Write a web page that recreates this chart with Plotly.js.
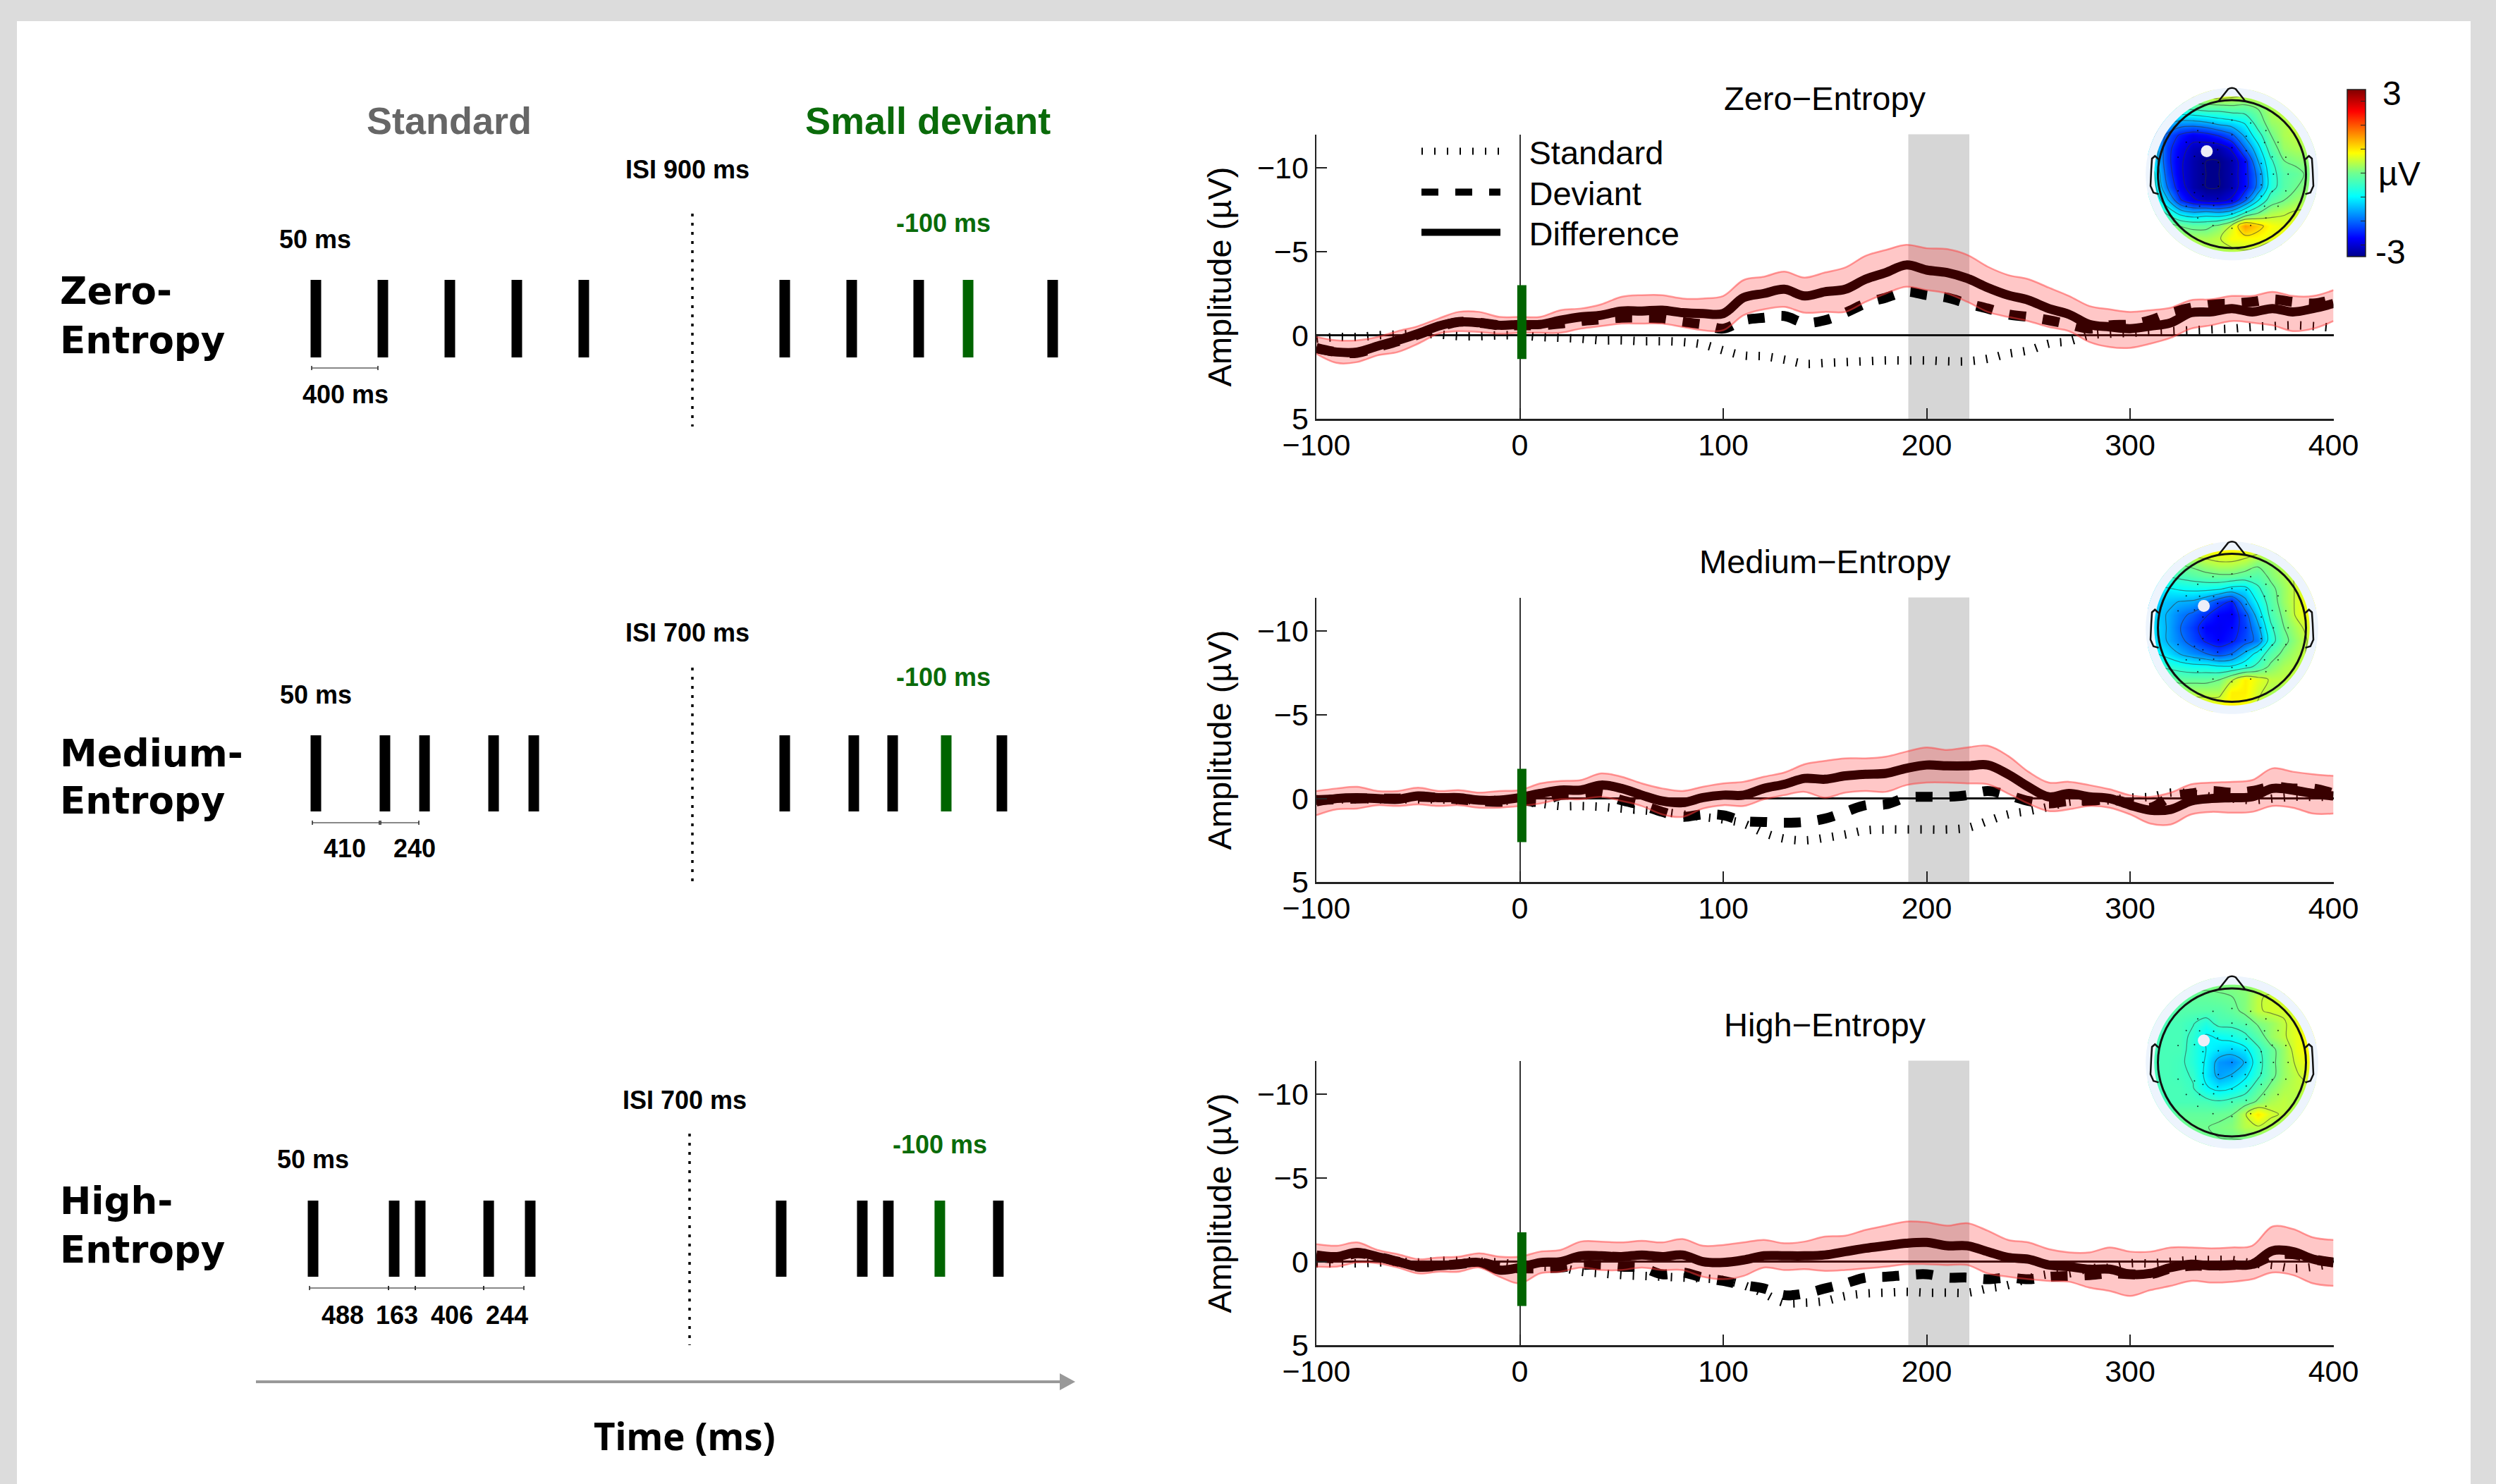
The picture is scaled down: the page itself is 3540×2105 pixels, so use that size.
<!DOCTYPE html>
<html>
<head>
<meta charset="utf-8">
<script src="https://cdn.plot.ly/plotly-3.0.1.min.js"></script>
<style>html,body{margin:0;padding:0;background:#fff}#chart{width:3540px;height:2105px}</style>
</head>
<body>
<div id="chart"></div>
<script>
// ---------- ERP time base and amplitudes (µV, negative up) ----------
const timeMs = [-100,-90,-80,-70,-60,-50,-40,-30,-20,-10,0,10,20,30,40,50,60,70,80,90,100,110,120,130,140,150,160,170,180,190,200,210,220,230,240,250,260,270,280,290,300,310,320,330,340,350,360,370,380,390,400];

const zeroStandard = [.2,.1,.1,0,-.05,-.1,-.05,.05,.05,0,0,.1,.15,.2,.3,.3,.35,.35,.4,.55,.9,1.2,1.25,1.45,1.7,1.65,1.6,1.55,1.5,1.5,1.5,1.55,1.55,1.4,1.1,.9,.5,.35,0,-.1,-.15,-.2,-.25,-.3,-.35,-.4,-.5,-.55,-.6,-.55,-.45];
const zeroDeviant = [.75,1,1.05,.7,.35,-.05,-.5,-.8,-.75,-.6,-.6,-.6,-.7,-.85,-.95,-1.05,-1.05,-1,-.8,-.65,-.4,-.9,-1.05,-1.15,-.75,-.9,-1.35,-1.9,-2.25,-2.6,-2.4,-2.25,-1.9,-1.6,-1.25,-1.1,-.9,-.65,-.4,-.6,-.65,-.9,-1.35,-1.65,-1.85,-1.9,-2,-2.15,-2,-1.9,-2.15];
const zeroDifference = [.8,1,1,.65,.3,-.1,-.55,-.8,-.75,-.6,-.65,-.65,-.9,-1.1,-1.2,-1.45,-1.45,-1.5,-1.35,-1.3,-1.3,-2.25,-2.5,-2.75,-2.35,-2.6,-2.75,-3.35,-3.75,-4.2,-3.9,-3.75,-3.4,-2.85,-2.4,-2.1,-1.6,-1.25,-.65,-.5,-.4,-.55,-.75,-1.35,-1.4,-1.6,-1.4,-1.6,-1.4,-1.6,-1.9];
const zeroUpper = [.1,.3,.3,.1,-.25,-.55,-1,-1.4,-1.4,-1.1,-1.1,-1.1,-1.5,-1.6,-1.85,-2.3,-2.4,-2.4,-2.2,-2.2,-2.35,-3.3,-3.5,-3.8,-3.45,-3.75,-4.05,-4.75,-5.1,-5.4,-5.2,-5.15,-4.8,-4.1,-3.6,-3.35,-2.85,-2.35,-1.75,-1.55,-1.4,-1.5,-1.65,-2.1,-2.15,-2.35,-2.35,-2.6,-2.35,-2.35,-2.7];
const zeroLower = [1.1,1.65,1.6,1.2,1,.5,-.1,-.25,-.2,-.1,-.15,-.15,-.15,-.4,-.55,-.7,-.7,-.7,-.5,-.3,-.3,-1.2,-1.55,-1.7,-1.35,-1.4,-1.4,-2,-2.5,-2.9,-2.7,-2.5,-2,-1.4,-1.1,-.85,-.5,-.25,.4,.7,.75,.5,.15,-.4,-.6,-.85,-.75,-.6,-.25,-.4,-.85];

const medStandard = [.05,.05,.05,.05,.05,.05,.05,.1,.1,.1,.2,.3,.45,.45,.5,.6,.7,.8,.95,1.1,1.25,1.5,2.05,2.4,2.5,2.35,2.15,1.9,1.85,1.85,1.85,1.85,1.75,1.35,.95,.75,.5,.2,.15,.1,-.05,-.1,-.35,-.3,-.1,0,.1,0,-.1,-.1,-.1];
const medDeviant = [.1,.05,0,0,0,-.1,-.05,.05,.15,.2,.1,.2,-.2,-.2,-.3,.1,.4,.8,1.1,.95,1,1.35,1.4,1.45,1.4,1.2,.8,.4,.35,-.05,-.1,-.1,-.2,-.45,-.2,.15,.3,.15,.15,.05,.3,.55,-.1,-.3,-.45,-.35,-.45,-.7,-.6,-.6,-.3];
const medDifference = [.2,0,-.05,0,.05,-.15,-.05,-.05,.1,.1,-.05,-.3,-.5,-.5,-.8,-.6,-.2,.15,.25,-.05,-.2,-.2,-.6,-.85,-1.2,-1.15,-1.35,-1.45,-1.5,-1.8,-2,-1.95,-1.95,-2,-1.45,-.7,-.1,-.3,-.1,0,.4,.7,.65,.15,0,-.05,-.1,-.6,-.5,-.3,-.15];
const medUpper = [-.45,-.6,-.7,-.45,-.45,-.65,-.45,-.5,-.35,-.45,-.5,-.9,-1.05,-1.1,-1.5,-1.3,-.9,-.6,-.45,-.7,-.9,-1,-1.3,-1.55,-2.05,-2.25,-2.4,-2.4,-2.5,-2.8,-3.05,-2.9,-3.05,-3.15,-2.55,-1.6,-.95,-1,-.8,-.55,-.2,-.1,-.35,-.85,-.95,-1,-1.1,-1.8,-1.6,-1.45,-1.35];
const medLower = [1,.65,.6,.4,.45,.35,.45,.4,.55,.55,.45,.3,.05,.05,-.1,.15,.45,.95,1.1,.6,.4,.45,.05,-.2,-.4,-.05,-.35,-.45,-.4,-.8,-.95,-.95,-.9,-.85,-.3,.3,.75,.65,.45,.55,.95,1.5,1.55,.95,.8,.85,.8,.45,.55,.9,.9];

const highStandard = [.1,.1,.1,.05,0,.05,-.05,-.05,0,.05,.2,.3,.35,.6,.7,.8,.85,.9,.95,1,1.1,1.4,1.9,2.45,2.45,2.35,2.05,1.9,1.85,1.8,1.85,1.85,1.85,1.6,1.4,1,.75,.7,.4,.35,.1,.1,0,-.1,-.1,-.1,.1,.2,.4,.3,.1];
const highDeviant = [-.3,-.2,-.5,-.3,0,.3,.25,.15,.05,.3,.4,.4,.35,.2,.2,.3,.35,.75,.65,.95,1.15,1.4,1.6,2,1.9,1.6,1.3,.95,.9,.8,.75,.95,.95,1.05,.95,1.05,.9,.85,.8,.7,.75,.75,.4,.25,.25,.2,.15,-.35,-.45,-.15,.05];
const highDifference = [-.4,-.3,-.55,-.3,0,.3,.25,.15,.05,.5,.35,.05,0,-.35,-.35,-.3,-.4,-.3,-.4,0,.05,-.1,-.35,-.35,-.35,-.4,-.6,-.8,-.95,-1.1,-1.15,-.95,-.95,-.6,-.25,-.15,.2,.3,.45,.45,.75,.7,.35,.15,.25,.2,.15,-.65,-.6,-.15,.05];
const highUpper = [-1.05,-.95,-1.15,-.7,-.45,-.15,-.25,-.3,-.5,-.3,-.3,-.6,-.7,-1.2,-1.2,-1.15,-1.25,-1.15,-1.35,-.95,-1,-1.15,-1.3,-1.1,-1.2,-1.5,-1.55,-1.9,-2.15,-2.4,-2.35,-2.15,-2.3,-1.85,-1.3,-1.15,-.75,-.55,-.55,-.85,-.6,-.6,-.85,-.85,-.8,-.85,-.95,-2.1,-1.95,-1.45,-1.3];
const highLower = [.3,.3,.05,.1,.35,.7,.6,.6,.35,.9,1.3,.7,.6,.35,.5,.5,.35,.5,.5,.9,1.05,.85,.35,.5,.45,.55,.5,.4,.3,.15,.15,.2,.2,.7,.9,1.05,1.15,1.2,1.55,1.75,2.05,1.7,1.45,1.15,1.25,1.2,1.05,.65,.8,1.3,1.45];

const analysisWindow = [191, 221];
const zeroOnsetBar = [-3, 1.42];
const medOnsetBar = [-1.77, 2.6];
const highOnsetBar = [-1.75, 2.65];
const xTicks = [-100,0,100,200,300,400];
const yTicks = [-10,-5,0,5];
const panelTitles = ['Zero−Entropy','Medium−Entropy','High−Entropy'];
const seriesNames = ['Standard','Deviant','Difference'];

// ---------- topographies (µV) on a 13×13 grid, top row first ----------
const topoX = [-1.05,-.875,-.7,-.525,-.35,-.175,0,.175,.35,.525,.7,.875,1.05];
const topoY = [1.05,.875,.7,.525,.35,.175,0,-.175,-.35,-.525,-.7,-.875,-1.05];
const zeroTopo = [
[.5,.5,.5,.5,.5,.6,.5,.4,.5,.5,.6,.6,.6],
[-.6,-.6,-.5,-.4,-.3,-.3,-.2,-.2,0,.3,.5,.6,.6],
[-1,-1.2,-1.4,-1.4,-1.3,-1.1,-1,-.8,-.2,.2,.3,.5,.6],
[-1.3,-1.8,-2.2,-2.4,-2.3,-2.1,-1.8,-1.2,-.6,0,.3,.4,.4],
[-1,-2,-2.4,-2.7,-2.8,-2.8,-2.5,-1.7,-1,-.2,.2,.3,.3],
[-1,-2,-2.5,-2.8,-3,-3,-2.8,-2.3,-1.3,-.5,0,.1,.2],
[-.8,-1.9,-2.5,-2.8,-3,-3,-2.8,-2.3,-1.6,-.6,-.2,-.1,.1],
[-.7,-1.7,-2.4,-2.8,-3,-3,-2.8,-2.3,-1.6,-.6,-.2,0,.2],
[-.5,-1.2,-2.1,-2.5,-2.7,-2.7,-2.5,-1.8,-.9,-.2,0,.2,.3],
[0,-.5,-1,-1.2,-1.1,-1.2,-1,-.4,0,.3,.4,.5,.5],
[.2,.2,0,-.1,-.1,.1,.5,1.3,1,.7,.6,.6,.6],
[.3,.3,.3,.3,.3,.4,.7,.7,.7,.6,.6,.5,.5],
[.3,.3,.3,.3,.3,.3,.3,.4,.3,0,.3,.4,.4]];
const medTopo = [
[1,.9,.8,.75,.75,.75,.75,.7,.6,.5,.5,.5,.5],
[0,0,.05,.15,.3,.4,.4,.3,.1,.2,.4,.6,.7],
[-.5,-.4,-.3,-.2,-.1,-.05,-.05,-.15,-.2,.1,.3,.5,.6],
[-1,-.9,-.8,-.75,-.75,-.8,-1,-1,-.5,-.1,.2,.5,.6],
[-1.1,-1.2,-1.3,-1.35,-1.6,-2,-2.2,-1.4,-.8,-.2,.2,.5,.7],
[-1.1,-1.3,-1.6,-1.8,-2.1,-2.35,-2.4,-1.9,-1.1,-.3,.1,.5,.7],
[-1,-1.3,-1.7,-2,-2.35,-2.4,-2.3,-2,-1.4,-.5,0,.3,.6],
[-1,-1.3,-1.6,-1.9,-2.2,-2.35,-2.2,-1.9,-1.6,-.6,-.1,.2,.5],
[-.8,-1,-1.3,-1.5,-1.7,-1.9,-1.7,-1.2,-.7,-.2,.1,.3,.5],
[-.4,-.5,-.6,-.7,-.7,-.8,-.8,-.6,-.3,.1,.3,.4,.4],
[0,0,-.1,-.1,-.1,0,.4,.8,.6,.4,.4,.4,.4],
[.4,.3,.3,.3,.3,.3,.8,.8,.5,.3,.2,.2,.2],
[.7,.7,.7,.7,.7,.7,.8,.7,.4,.2,.2,.2,.2]];
const highTopo = [
[.1,.1,.1,.1,.1,.1,.1,.15,.2,.3,.3,.3,.3],
[-.1,-.1,-.1,-.1,-.1,-.05,0,.1,.4,.5,.5,.5,.5],
[-.2,-.2,-.2,-.2,-.2,-.2,-.1,.1,.4,.5,.5,.5,.5],
[-.3,-.3,-.3,-.4,-.6,-.3,-.3,-.2,.05,.2,.4,.6,.6],
[-.3,-.3,-.3,-.5,-.9,-.8,-.7,-.5,-.2,.2,.4,.6,.7],
[-.3,-.3,-.3,-.55,-.85,-1,-1.1,-.95,-.5,-.1,.2,.6,.75],
[-.3,-.3,-.35,-.55,-.9,-1.45,-1.55,-1.25,-.6,-.1,.2,.5,.7],
[-.3,-.3,-.35,-.45,-.95,-1.4,-1.25,-.95,-.5,-.1,.2,.4,.6],
[-.3,-.3,-.3,-.4,-.8,-.95,-.85,-.6,-.2,.1,.3,.4,.4],
[-.3,-.3,-.3,-.3,-.3,-.4,-.3,-.2,.05,.3,.4,.3,.3],
[-.2,-.2,-.1,-.1,-.1,-.05,0,.4,.85,.5,.4,.3,.3],
[0,0,0,0,0,.05,.1,.35,.4,.3,.2,.2,.2],
[0,0,0,0,0,0,0,0,.05,.05,.05,.05,.05]];
const electrodeX = [0,-.256,.253,-.462,.459,0,.193,-.617,-.437,-.247,.44,.623,0,-.193,.193,-.506,-.728,.544,.728,-.392,-.184,0,.18,.396,-.392,0,.187,.389,.56,.759,-.392,-.184,0,.18,.396,-.728,-.506,.544,.728,-.392,-.193,.193,.396,0,-.617,-.437,-.247,.44,.623,0,.193,-.462,.459,-.256,.253,0];
const electrodeY = [.728,.69,.69,.589,.589,.532,.513,.43,.427,.421,.427,.43,.358,.329,.316,.241,.228,.234,.228,.146,.158,.18,.165,.146,0,0,0,0,0,0,-.146,-.165,-.187,-.165,-.146,-.225,-.25,-.234,-.225,-.297,-.329,-.32,-.297,-.361,-.434,-.434,-.424,-.434,-.434,-.535,-.513,-.592,-.592,-.693,-.693,-.731];
const zeroPeak = [[-.34],[.31]];
const medPeak = [[-.38],[.295]];
const highPeak = [[-.38],[.295]];
const colorTicks = [-2.57,-1.71,-.86,0,.86,1.71,2.57];

// ---------- schematic stimulus onsets (ms on the schematic time line) ----------
const zeroStdOnsets = [0,450,900,1350,1800];
const zeroDevOnsets = [3150,3600,4050,4950];
const zeroOddOnset = [4382];
const medStdOnsets = [0,464,730,1194,1464];
const medDevOnsets = [3150,3614,3875,4609];
const medOddOnset = [4235];
const highStdOnsets = [0,545,720,1180,1459];
const highDevOnsets = [3145,3690,3865,4604];
const highOddOnset = [4211];

// ---------- page geometry helpers ----------
const W = 3540, H = 2105;
const px = x => x / W, py = y => 1 - y / H;
const SANS = '"Liberation Sans", Arial, sans-serif';
const rows = [
  {top:190.6, bot:594.4,  headY:247},
  {top:847.6, bot:1251.4, headY:890.5},
  {top:1504.6,bot:1908.4, headY:1507}
];
const plotL = 1867, plotR = 3309.5;
const headX = 3165.5, headR = 105, topoRange = 1.19;
const stimRows = [{top:397,bot:507},{top:1043,bot:1151},{top:1703,bot:1811}];
const msPerPx = 1/0.2111;

const jet = [[0,'#00008b'],[.11,'#0000ff'],[.36,'#00ffff'],[.5,'#70ff90'],[.62,'#ffff00'],[.87,'#ff0000'],[1,'#800000']];

// ---------- layout skeleton ----------
const legendBox = cy => ({x:px(2011),y:py(cy),xanchor:'left',yanchor:'middle',bgcolor:'rgba(0,0,0,0)',borderwidth:0,
  font:{family:SANS,size:47,color:'#000'},itemwidth:112});
const layout = {
  width:W, height:H, margin:{l:0,r:0,t:0,b:0}, autosize:false,
  paper_bgcolor:'#dcdcdc', plot_bgcolor:'rgba(0,0,0,0)',
  font:{family:SANS,color:'#000'},
  showlegend:true,
  legend:legendBox(215), legend2:legendBox(273), legend3:legendBox(330),
  shapes:[], annotations:[]
};
layout.shapes.push({type:'rect',xref:'paper',yref:'paper',x0:px(24),x1:px(3504),y0:0,y1:py(30),fillcolor:'#fff',line:{width:0},layer:'below'});

const traces = [];
const ids = ['','2','3'];
const legendIds = ['legend','legend2','legend3'];
const erp = [
  [zeroStandard,zeroDeviant,zeroDifference,zeroUpper,zeroLower,zeroOnsetBar],
  [medStandard,medDeviant,medDifference,medUpper,medLower,medOnsetBar],
  [highStandard,highDeviant,highDifference,highUpper,highLower,highOnsetBar]
];
const lineStyles = [
  {color:'#000',width:12,dash:'2px,16px'},
  {color:'#000',width:14,dash:'24px,24px'},
  {color:'#000',width:13,dash:'solid'}
];

erp.forEach((d,i)=>{
  const xa='x'+ids[i], ya='y'+ids[i];
  const r=rows[i];
  layout['xaxis'+ids[i]]={domain:[px(plotL),px(plotR)],range:[-100,400],anchor:ya,
    tickmode:'array',tickvals:xTicks,ticks:'inside',ticklen:15,tickwidth:2,tickcolor:'#222',
    showline:true,linewidth:2.5,linecolor:'#222',showgrid:false,
    zeroline:true,zerolinecolor:'#333',zerolinewidth:2,ticklabelstandoff:-3,
    tickfont:{family:SANS,size:43,color:'#000'},fixedrange:true};
  layout['yaxis'+ids[i]]={domain:[py(r.bot),py(r.top)],range:[5,-12],anchor:xa,
    tickmode:'array',tickvals:yTicks,ticks:'inside',ticklen:15,tickwidth:2,tickcolor:'#222',
    showline:true,linewidth:2.5,linecolor:'#222',showgrid:false,
    zeroline:true,zerolinecolor:'#111',zerolinewidth:2.5,
    tickfont:{family:SANS,size:43,color:'#000'},fixedrange:true,
    title:{text:'Amplitude (µV)',font:{family:SANS,size:47,color:'#000'},standoff:22}};
  layout.shapes.push({type:'rect',xref:xa,yref:ya+' domain',x0:analysisWindow[0],x1:analysisWindow[1],y0:0,y1:1,
    fillcolor:'#d6d6d6',line:{width:0},layer:'below'});
  [0,1,2].forEach(k=>{
    traces.push({type:'scatter',mode:'lines',x:timeMs,y:d[k],xaxis:xa,yaxis:ya,name:'\u00a0\u00a0\u2009'+seriesNames[k],
      legend:legendIds[k],showlegend:i===0,hoverinfo:'skip',line:Object.assign({shape:'spline',smoothing:1},lineStyles[k])});
  });
  traces.push({type:'scatter',mode:'lines',x:timeMs,y:d[4],xaxis:xa,yaxis:ya,showlegend:false,hoverinfo:'skip',
    line:{shape:'spline',smoothing:1,color:'rgba(255,60,60,.5)',width:2.5}});
  traces.push({type:'scatter',mode:'lines',x:timeMs,y:d[3],xaxis:xa,yaxis:ya,showlegend:false,hoverinfo:'skip',
    fill:'tonexty',fillcolor:'rgba(255,0,0,.22)',
    line:{shape:'spline',smoothing:1,color:'rgba(255,60,60,.5)',width:2.5}});
  traces.push({type:'scatter',mode:'lines',x:[1,1],y:d[5],xaxis:xa,yaxis:ya,showlegend:false,hoverinfo:'skip',
    line:{color:'#006400',width:13}});
  layout.annotations.push({xref:'paper',yref:'paper',x:px((plotL+plotR)/2),y:py(r.top-51),text:panelTitles[i],showarrow:false,
    xanchor:'center',yanchor:'middle',font:{family:SANS,size:47,color:'#000'}});
});

// ---------- topographies ----------
const circlePath = r => {
  const n=90; let s='';
  for(let k=0;k<n;k++){const a=2*Math.PI*k/n;s+=(k?'L':'M')+(r*Math.cos(a)).toFixed(4)+','+(r*Math.sin(a)).toFixed(4);}
  return s+'Z';
};
const R = topoRange;
[[zeroTopo,zeroPeak],[medTopo,medPeak],[highTopo,highPeak]].forEach((t,i)=>{
  const id=String(4+i), xa='x'+id, ya='y'+id, half=R*headR, cy=rows[i].headY;
  layout['xaxis'+id]={domain:[px(headX-half),px(headX+half)],range:[-R,R],anchor:ya,visible:false,fixedrange:true};
  layout['yaxis'+id]={domain:[py(cy+half),py(cy-half)],range:[-R,R],anchor:xa,visible:false,fixedrange:true};
  const hm={type:'heatmap',x:topoX,y:topoY,z:t[0],xaxis:xa,yaxis:ya,zsmooth:'best',zmin:-3,zmax:3,colorscale:jet,
    hoverinfo:'skip',showscale:i===0,showlegend:false};
  if(i===0){hm.colorbar={x:px(3329),xanchor:'left',xpad:0,y:py(127),yanchor:'top',ypad:0,lenmode:'pixels',len:237,
    thicknessmode:'pixels',thickness:26,outlinecolor:'#222',outlinewidth:1.5,borderwidth:0,
    tickmode:'array',tickvals:colorTicks,ticks:'inside',ticklen:7,tickwidth:1,tickcolor:'#222',showticklabels:false};}
  traces.push(hm);
  traces.push({type:'contour',x:topoX,y:topoY,z:t[0],xaxis:xa,yaxis:ya,showscale:false,hoverinfo:'skip',showlegend:false,
    autocontour:false,contours:{coloring:'none',start:-3,end:3,size:.43},line:{color:'rgba(50,50,50,.55)',width:1.2,smoothing:1}});
  traces.push({type:'scatter',mode:'markers',x:electrodeX,y:electrodeY,xaxis:xa,yaxis:ya,showlegend:false,hoverinfo:'skip',
    marker:{size:2,color:'#000',opacity:.8}});
  traces.push({type:'scatter',mode:'markers',x:t[1][0],y:t[1][1],xaxis:xa,yaxis:ya,showlegend:false,hoverinfo:'skip',
    marker:{size:17,color:'#eeeef8'}});
  const base={xref:xa,yref:ya,layer:'above'};
  layout.shapes.push(Object.assign({type:'path',path:'M'+(-R)+','+(-R)+'L'+R+','+(-R)+'L'+R+','+R+'L'+(-R)+','+R+'Z'+circlePath(1.165),
    fillcolor:'#fff',fillrule:'evenodd',line:{width:0}},base));
  layout.shapes.push(Object.assign({type:'path',path:circlePath(1.165)+circlePath(1.05),
    fillcolor:'#edf4fd',fillrule:'evenodd',line:{width:0}},base));
  layout.shapes.push(Object.assign({type:'circle',x0:-1,x1:1,y0:-1,y1:1,line:{color:'#111',width:3},fillcolor:'rgba(0,0,0,0)'},base));
  layout.shapes.push(Object.assign({type:'path',path:'M-.18,.985L-.05,1.15Q0,1.18 .05,1.15L.18,.985',line:{color:'#111',width:2.5},fillcolor:'rgba(0,0,0,0)'},base));
  [-1,1].forEach(s=>{
    layout.shapes.push(Object.assign({type:'path',
      path:`M${s*.99},.2L${s*1.04},.245L${s*1.08},.21L${s*1.09},.06L${s*1.1},-.16L${s*1.06},-.25L${s*.99},-.27`,
      line:{color:'#111',width:2.5},fillcolor:'rgba(0,0,0,0)'},base));
  });
});

// ---------- stimulus schematics ----------
layout.xaxis7={domain:[0,px(1650)],range:[-448*msPerPx,(1650-448)*msPerPx],anchor:'y7',visible:false,fixedrange:true};
layout.xaxis8={domain:[0,px(1650)],range:[-444*msPerPx,(1650-444)*msPerPx],anchor:'y9',visible:false,fixedrange:true};
stimRows.forEach((s,i)=>{
  layout['yaxis'+(7+i)]={domain:[py(s.bot),py(s.top)],range:[0,1],anchor:i<2?'x7':'x8',visible:false,fixedrange:true};
});
const stems = onsets => {
  const x=[],y=[];
  onsets.forEach(o=>{x.push(o,o,null);y.push(0,1,null);});
  return {x,y};
};
[[zeroStdOnsets,zeroDevOnsets,zeroOddOnset],[medStdOnsets,medDevOnsets,medOddOnset],[highStdOnsets,highDevOnsets,highOddOnset]].forEach((g,i)=>{
  const xa=i<2?'x7':'x8', ya='y'+(7+i);
  const black=stems(g[0].concat(g[1])), green=stems(g[2]);
  traces.push({type:'scatter',mode:'lines',x:black.x,y:black.y,xaxis:xa,yaxis:ya,showlegend:false,hoverinfo:'skip',line:{color:'#000',width:15}});
  traces.push({type:'scatter',mode:'lines',x:green.x,y:green.y,xaxis:xa,yaxis:ya,showlegend:false,hoverinfo:'skip',line:{color:'#006400',width:15}});
});

// ---------- free text ----------
const note = (text,x,y,size,opts={}) => layout.annotations.push(Object.assign({xref:'paper',yref:'paper',x:px(x),y:py(y),text,showarrow:false,
  xanchor:'center',yanchor:'middle',font:{family:opts.family||SANS,size,color:opts.color||'#000',weight:opts.weight||400}},opts.xanchor?{xanchor:opts.xanchor}:{}));
const B={weight:700};
note('Standard',637,171,54,{weight:700,color:'#666'});
note('Small deviant',1316,171,54,{weight:700,color:'#0a6b0a'});
const GREEN={weight:700,color:'#0a6b0a'};
note('ISI 900 ms',975,240,36,B); note('ISI 700 ms',975,897,36,B); note('ISI 700 ms',971,1560,36,B);
note('50 ms',447,339,36,B); note('50 ms',448,986,36,B); note('50 ms',444,1644,36,B);
note('-100 ms',1338,317,36,GREEN); note('-100 ms',1338,961,36,GREEN); note('-100 ms',1333,1623,36,GREEN);
note('400 ms',490,559,36,B);
note('410',489,1203,36,B); note('240',588,1203,36,B);
note('488',486,1865,36,B); note('163',563,1865,36,B); note('406',641,1865,36,B); note('244',719,1865,36,B);
const LBL={weight:700,family:'"DejaVu Sans", sans-serif',xanchor:'left'};
note('Zero-',83,413,53,LBL); note('Entropy',83,482,53,LBL);
note('Medium-',83,1068,53,LBL); note('Entropy',83,1135,53,LBL);
note('High-',83,1703,53,LBL); note('Entropy',83,1772,53,LBL);
note('Time (ms)',971,2036,53,{weight:700,family:'"Noto Sans", sans-serif'});
note('3',3392,133,48); note('µV',3403,247,48); note('-3',3390,357,48);

// separators, spacing rulers, time arrow
const ln=(x0,y0,x1,y1,color,width,dash)=>layout.shapes.push({type:'line',xref:'paper',yref:'paper',x0:px(x0),y0:py(y0),x1:px(x1),y1:py(y1),line:{color,width,dash:dash||'solid'},layer:'above'});
ln(982,303,982,605,'#000',3.5,'4px,9px'); ln(982,947,982,1250,'#000',3.5,'4px,9px'); ln(978,1608,978,1908,'#000',3.5,'4px,9px');
[[442,536,522],[443,538,1167],[540,594,1167],[439,551,1827],[551,589,1827],[589,686,1827],[686,743,1827]].forEach(s=>{
  ln(s[0],s[2],s[1],s[2],'#888',2);
  ln(s[0],s[2]-3,s[0],s[2]+3,'#222',1.5); ln(s[1],s[2]-3,s[1],s[2]+3,'#222',1.5);
});
ln(363,1960,1504,1960,'#999',4);
layout.shapes.push({type:'path',xref:'paper',yref:'paper',layer:'above',
  path:`M${px(1503)},${py(1948)}L${px(1525)},${py(1960)}L${px(1503)},${py(1972)}Z`,fillcolor:'#999',line:{width:0}});

Plotly.newPlot('chart',traces,layout,{displayModeBar:false,staticPlot:true});
</script>
</body>
</html>
